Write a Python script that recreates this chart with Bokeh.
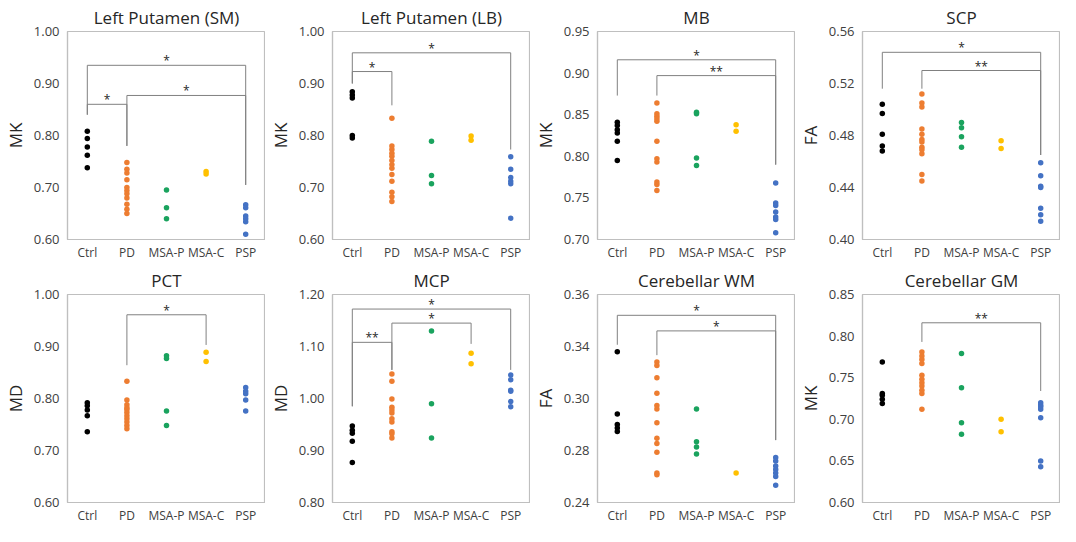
from bokeh.plotting import figure
from bokeh.layouts import gridplot
from bokeh.models import FixedTicker, Range1d
from bokeh.embed import file_html
from bokeh.resources import INLINE
from bokeh.core.properties import value

GROUPS = ["Ctrl", "PD", "MSA-P", "MSA-C", "PSP"]
COLORS = ["#000000", "#ED7D31", "#1AA35E", "#FFC000", "#4472C4"]

TITLES = ["Left Putamen (SM)", "Left Putamen (LB)", "MB", "SCP",
          "PCT", "MCP", "Cerebellar WM", "Cerebellar GM"]
YLABELS = ["MK", "MK", "MK", "FA", "MD", "MD", "FA", "MK"]

# y ticks and their labels per panel
ticks_sm = [0.60, 0.70, 0.80, 0.90, 1.00]
labels_sm = ["0.60", "0.70", "0.80", "0.90", "1.00"]
ticks_lb = [0.60, 0.70, 0.80, 0.90, 1.00]
labels_lb = ["0.60", "0.70", "0.80", "0.90", "1.00"]
ticks_mb = [0.70, 0.75, 0.80, 0.85, 0.90, 0.95]
labels_mb = ["0.70", "0.75", "0.80", "0.85", "0.90", "0.95"]
ticks_scp = [0.40, 0.44, 0.48, 0.52, 0.56]
labels_scp = ["0.40", "0.44", "0.48", "0.52", "0.56"]
ticks_pct = [0.60, 0.70, 0.80, 0.90, 1.00]
labels_pct = ["0.60", "0.70", "0.80", "0.90", "1.00"]
ticks_mcp = [0.80, 0.90, 1.00, 1.10, 1.20]
labels_mcp = ["0.80", "0.90", "1.00", "1.10", "1.20"]
ticks_wm = [0.24, 0.27, 0.30, 0.33, 0.36]
labels_wm = ["0.24", "0.28", "0.30", "0.34", "0.36"]
ticks_gm = [0.60, 0.65, 0.70, 0.75, 0.80, 0.85]
labels_gm = ["0.60", "0.65", "0.70", "0.75", "0.80", "0.85"]

# values per group: Ctrl, PD, MSA-P, MSA-C, PSP
vals_sm = [
    [0.808, 0.794, 0.778, 0.762, 0.738],
    [0.748, 0.735, 0.728, 0.715, 0.700, 0.694, 0.688, 0.680, 0.668, 0.658, 0.650],
    [0.695, 0.661, 0.640],
    [0.731, 0.726],
    [0.667, 0.661, 0.645, 0.640, 0.634, 0.610],
]
vals_lb = [
    [0.884, 0.878, 0.872, 0.800, 0.795],
    [0.833, 0.780, 0.773, 0.766, 0.760, 0.752, 0.744, 0.737, 0.725, 0.712, 0.691, 0.682, 0.673],
    [0.789, 0.723, 0.707],
    [0.799, 0.791],
    [0.759, 0.735, 0.719, 0.712, 0.707, 0.641],
]
vals_mb = [
    [0.841, 0.837, 0.832, 0.828, 0.818, 0.795],
    [0.864, 0.851, 0.848, 0.845, 0.842, 0.818, 0.797, 0.793, 0.769, 0.766, 0.759],
    [0.853, 0.851, 0.798, 0.789],
    [0.838, 0.830],
    [0.768, 0.744, 0.741, 0.733, 0.727, 0.724, 0.708],
]
vals_scp = [
    [0.504, 0.497, 0.481, 0.472, 0.468],
    [0.512, 0.505, 0.502, 0.485, 0.481, 0.477, 0.475, 0.471, 0.469, 0.466, 0.450, 0.445],
    [0.490, 0.486, 0.479, 0.471],
    [0.476, 0.470],
    [0.459, 0.449, 0.441, 0.440, 0.424, 0.419, 0.414],
]
vals_pct = [
    [0.792, 0.786, 0.778, 0.767, 0.736],
    [0.833, 0.797, 0.788, 0.782, 0.779, 0.773, 0.767, 0.761, 0.755, 0.748, 0.742],
    [0.882, 0.877, 0.776, 0.748],
    [0.889, 0.871],
    [0.821, 0.814, 0.809, 0.797, 0.776],
]
vals_mcp = [
    [0.947, 0.939, 0.933, 0.918, 0.877],
    [1.047, 1.033, 0.999, 0.983, 0.978, 0.972, 0.961, 0.955, 0.936, 0.932, 0.924],
    [1.130, 0.990, 0.924],
    [1.087, 1.067],
    [1.045, 1.036, 1.016, 1.014, 0.994, 0.984],
]
vals_wm = [
    [0.327, 0.291, 0.285, 0.283, 0.281],
    [0.321, 0.319, 0.312, 0.303, 0.296, 0.294, 0.286, 0.277, 0.274, 0.269, 0.257, 0.256],
    [0.294, 0.275, 0.272, 0.268],
    [0.257],
    [0.266, 0.264, 0.261, 0.259, 0.257, 0.255, 0.250],
]
vals_gm = [
    [0.769, 0.731, 0.729, 0.724, 0.719],
    [0.781, 0.776, 0.772, 0.767, 0.753, 0.748, 0.744, 0.740, 0.735, 0.731, 0.712],
    [0.779, 0.738, 0.696, 0.682],
    [0.700, 0.685],
    [0.720, 0.717, 0.715, 0.712, 0.702, 0.650, 0.643],
]

# significance brackets: (group1, group2, top, leg1 bottom, leg2 bottom, label)
sig_sm = [("Ctrl", "PSP", 0.935, 0.840, 0.705, "*"),
          ("Ctrl", "PD", 0.860, 0.840, 0.780, "*"),
          ("PD", "PSP", 0.877, 0.780, 0.705, "*")]
sig_lb = [("Ctrl", "PSP", 0.959, 0.900, 0.773, "*"),
          ("Ctrl", "PD", 0.923, 0.900, 0.858, "*")]
sig_mb = [("Ctrl", "PSP", 0.916, 0.873, 0.790, "*"),
          ("PD", "PSP", 0.897, 0.873, 0.790, "**")]
sig_scp = [("Ctrl", "PSP", 0.544, 0.516, 0.465, "*"),
           ("PD", "PSP", 0.530, 0.516, 0.465, "**")]
sig_pct = [("PD", "MSA-C", 0.961, 0.864, 0.903, "*")]
sig_mcp = [("Ctrl", "PSP", 1.172, 0.985, 1.055, "*"),
           ("PD", "MSA-C", 1.145, 1.055, 1.105, "*"),
           ("Ctrl", "PD", 1.108, 0.985, 1.055, "**")]
sig_wm = [("Ctrl", "PSP", 0.348, 0.331, 0.276, "*"),
          ("PD", "PSP", 0.339, 0.325, 0.276, "*")]
sig_gm = [("PD", "PSP", 0.816, 0.793, 0.734, "**")]

PANELS = [
    (vals_sm, ticks_sm, labels_sm, sig_sm),
    (vals_lb, ticks_lb, labels_lb, sig_lb),
    (vals_mb, ticks_mb, labels_mb, sig_mb),
    (vals_scp, ticks_scp, labels_scp, sig_scp),
    (vals_pct, ticks_pct, labels_pct, sig_pct),
    (vals_mcp, ticks_mcp, labels_mcp, sig_mcp),
    (vals_wm, ticks_wm, labels_wm, sig_wm),
    (vals_gm, ticks_gm, labels_gm, sig_gm),
]

FONT = "Open Sans"
GRAY = "#BFBFBF"
TEXT = "#404040"


def make_panel(title, ylabel, vals, ticks, tlabels, sigs):
    p = figure(width=265, height=263, output_backend="svg", toolbar_location=None,
               x_range=Range1d(0.5, 5.5), y_range=Range1d(ticks[0], ticks[-1]),
               min_border_left=58, min_border_right=0, min_border_top=30,
               min_border_bottom=0)
    p.title.text = title
    p.title.align = "center"
    p.title.text_font = FONT
    p.title.text_font_size = "17px"
    p.title.text_font_style = "normal"
    p.title.text_color = "#262626"
    p.title.offset = 0
    p.title.standoff = 6

    p.outline_line_color = GRAY
    p.outline_line_width = 1.2
    p.grid.visible = False
    p.background_fill_color = "white"
    p.border_fill_color = "white"

    xs_pos = list(range(1, len(GROUPS) + 1))
    p.xaxis.ticker = FixedTicker(ticks=xs_pos)
    p.xaxis.major_label_overrides = {i: g for i, g in zip(xs_pos, GROUPS)}
    p.xaxis.axis_label = None
    p.xaxis.axis_label_standoff = 0
    p.yaxis.ticker = FixedTicker(ticks=ticks)
    p.yaxis.major_label_overrides = {t: s for t, s in zip(ticks, tlabels)}
    p.yaxis.axis_label = ylabel

    for ax in (p.xaxis[0], p.yaxis[0]):
        ax.axis_line_color = GRAY
        ax.axis_line_width = 1.2
        ax.major_tick_line_color = None
        ax.minor_tick_line_color = None
        ax.major_tick_out = 0
        ax.major_tick_in = 0
        ax.minor_tick_out = 0
        ax.minor_tick_in = 0
        ax.major_label_text_font = FONT
        ax.major_label_text_color = TEXT
    p.xaxis.major_label_text_font_size = "12px"
    p.xaxis.major_label_standoff = 4
    p.yaxis.major_label_text_font_size = "13px"
    p.yaxis.major_label_standoff = 8
    p.yaxis.axis_label_text_font = FONT
    p.yaxis.axis_label_text_font_size = "17px"
    p.yaxis.axis_label_text_font_style = "normal"
    p.yaxis.axis_label_text_color = "#262626"
    p.yaxis.axis_label_standoff = 4

    # significance brackets
    for g1, g2, top, b1, b2, lab in sigs:
        x1 = GROUPS.index(g1) + 1
        x2 = GROUPS.index(g2) + 1
        p.line([x1, x1, x2, x2], [b1, top, top, b2], line_color="#808080", line_width=1)
        p.text([(x1 + x2) / 2], [top], text=[lab], text_font=value(FONT),
               text_font_size="12px", text_align="center", text_baseline="bottom",
               text_color="#262626", y_offset=4)

    # data points
    for i, (g, c) in enumerate(zip(GROUPS, COLORS)):
        v = vals[i]
        p.scatter([i + 1] * len(v), v, size=5.5, fill_color=c, line_color=None)
    return p


figs = []
for (vals, ticks, tlabels, sigs), t, yl in zip(PANELS, TITLES, YLABELS):
    figs.append(make_panel(t, yl, vals, ticks, tlabels, sigs))

grid = gridplot([figs[:4], figs[4:]], toolbar_location=None)

open("out.html", "w").write(file_html(grid, INLINE))
